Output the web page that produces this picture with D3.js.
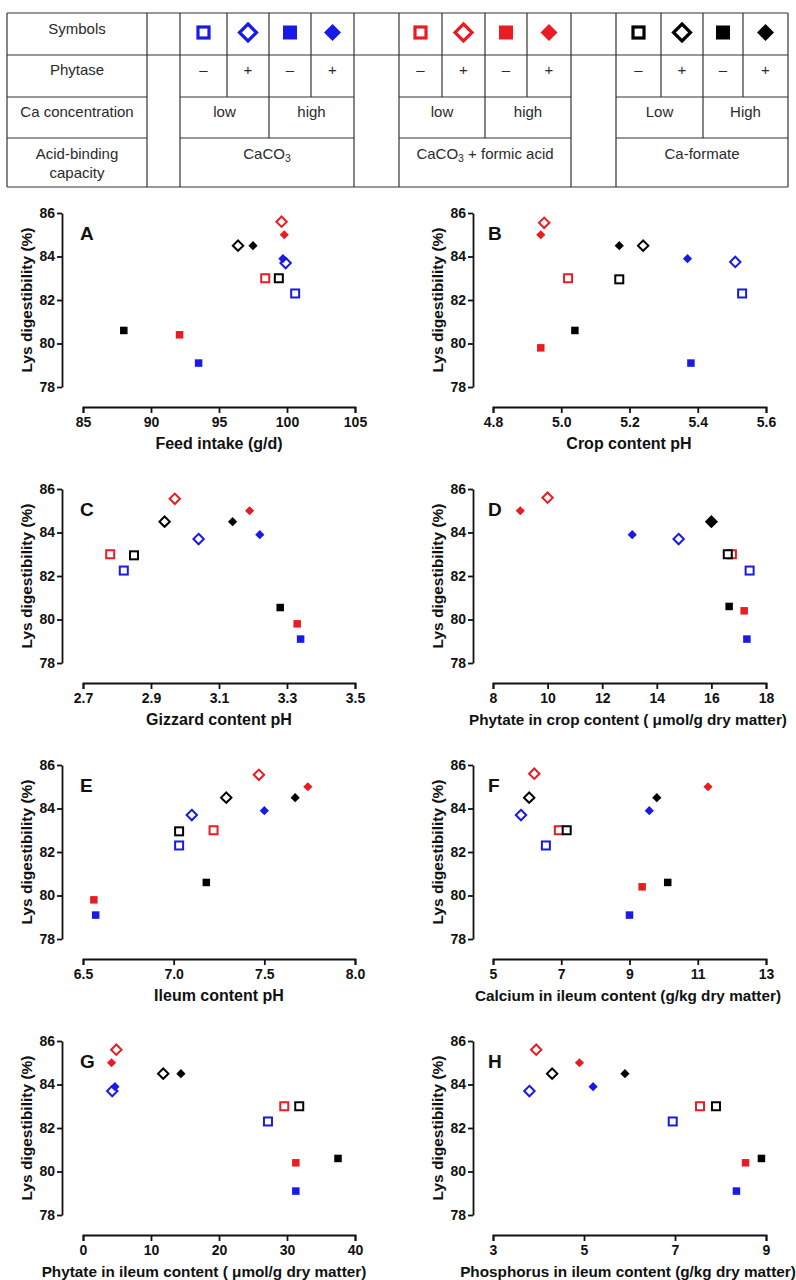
<!DOCTYPE html>
<html><head><meta charset="utf-8">
<script src="https://cdn.jsdelivr.net/npm/d3@7"></script>
<style>
body{margin:0;background:#fff}
svg{display:block}
text{font-family:"Liberation Sans",Arial,sans-serif}
</style></head>
<body><svg id="c" width="796" height="1280"></svg>
<script>
// Treatments: order of all value arrays
const treatments = [
 {group:"CaCO3", ca:"low", phytase:"-"},
 {group:"CaCO3", ca:"low", phytase:"+"},
 {group:"CaCO3", ca:"high", phytase:"-"},
 {group:"CaCO3", ca:"high", phytase:"+"},
 {group:"CaCO3 + formic acid", ca:"low", phytase:"-"},
 {group:"CaCO3 + formic acid", ca:"low", phytase:"+"},
 {group:"CaCO3 + formic acid", ca:"high", phytase:"-"},
 {group:"CaCO3 + formic acid", ca:"high", phytase:"+"},
 {group:"Ca-formate", ca:"Low", phytase:"-"},
 {group:"Ca-formate", ca:"Low", phytase:"+"},
 {group:"Ca-formate", ca:"High", phytase:"-"},
 {group:"Ca-formate", ca:"High", phytase:"+"}
];
const groupColors = {"CaCO3":"#1a1ae6","CaCO3 + formic acid":"#e81c22","Ca-formate":"#000000"};
const shapes = ["openSquare","openDiamond","filledSquare","filledDiamond"];

const yTicks = [78,80,82,84,86];

const xA = [100.6, 99.9, 93.5, 99.7, 98.4, 99.6, 92.1, 99.8, 99.4, 96.4, 88.0, 97.5];
const yA = [82.3, 83.7, 79.1, 83.9, 83.0, 85.6, 80.4, 85.0, 83.0, 84.5, 80.6, 84.5];
const xB = [5.53, 5.51, 5.38, 5.37, 5.02, 4.95, 4.94, 4.94, 5.17, 5.24, 5.04, 5.17];
const yB = [82.3, 83.75, 79.1, 83.9, 83.0, 85.55, 79.8, 85.0, 82.95, 84.5, 80.6, 84.5];
const xC = [2.82, 3.04, 3.34, 3.22, 2.78, 2.97, 3.33, 3.19, 2.85, 2.94, 3.28, 3.14];
const yC = [82.25, 83.7, 79.1, 83.9, 83.0, 85.55, 79.8, 85.0, 82.95, 84.5, 80.55, 84.5];
const xD = [17.4, 14.8, 17.3, 13.1, 16.75, 10.0, 17.2, 9.0, 16.6, 16.0, 16.65, 16.0];
const yD = [82.25, 83.7, 79.1, 83.9, 83.0, 85.6, 80.4, 85.0, 83.0, 84.5, 80.6, 84.5];
const xE = [7.03, 7.10, 6.57, 7.50, 7.22, 7.47, 6.56, 7.74, 7.03, 7.29, 7.18, 7.67];
const yE = [82.3, 83.7, 79.1, 83.9, 83.0, 85.55, 79.8, 85.0, 82.95, 84.5, 80.6, 84.5];
const xF = [6.55, 5.82, 9.0, 9.58, 6.93, 6.21, 9.37, 11.3, 7.16, 6.06, 10.12, 9.8];
const yF = [82.3, 83.7, 79.1, 83.9, 83.0, 85.6, 80.4, 85.0, 83.0, 84.5, 80.6, 84.5];
const xG = [27.2, 4.3, 31.3, 4.7, 29.6, 4.9, 31.3, 4.2, 31.8, 11.8, 37.5, 14.4];
const yG = [82.3, 83.7, 79.1, 83.9, 83.0, 85.6, 80.4, 85.0, 83.0, 84.5, 80.6, 84.5];
const xH = [6.95, 3.8, 8.35, 5.2, 7.55, 3.95, 8.55, 4.9, 7.9, 4.3, 8.9, 5.9];
const yH = [82.3, 83.7, 79.1, 83.9, 83.0, 85.6, 80.4, 85.0, 83.0, 84.5, 80.6, 84.5];

const panels = [
 {label:"A", title:"Feed intake (g/d)", domain:[85,105], ticks:[85,90,95,100,105], fmt:d3.format("d"), x:xA, y:yA},
 {label:"B", title:"Crop content pH", domain:[4.8,5.6], ticks:[4.8,5.0,5.2,5.4,5.6], fmt:d3.format(".1f"), x:xB, y:yB},
 {label:"C", title:"Gizzard content pH", domain:[2.7,3.5], ticks:[2.7,2.9,3.1,3.3,3.5], fmt:d3.format(".1f"), x:xC, y:yC},
 {label:"D", title:"Phytate in crop content ( \u03bcmol/g dry matter)", domain:[8,18], ticks:[8,10,12,14,16,18], fmt:d3.format("d"), x:xD, y:yD},
 {label:"E", title:"Ileum content pH", domain:[6.5,8.0], ticks:[6.5,7.0,7.5,8.0], fmt:d3.format(".1f"), x:xE, y:yE},
 {label:"F", title:"Calcium in ileum content (g/kg dry matter)", domain:[5,13], ticks:[5,7,9,11,13], fmt:d3.format("d"), x:xF, y:yF},
 {label:"G", title:"Phytate in ileum content ( \u03bcmol/g dry matter)", domain:[0,40], ticks:[0,10,20,30,40], fmt:d3.format("d"), x:xG, y:yG},
 {label:"H", title:"Phosphorus in ileum content (g/kg dry matter)", domain:[3,9], ticks:[3,5,7,9], fmt:d3.format("d"), x:xH, y:yH}
];

const svg = d3.select("#c");

// ---------- marker drawing ----------
function drawMarker(g, shape, color, cx, cy, s){
  if(shape==="openSquare"){
    const w = s.sq;
    g.append("rect").attr("x",cx-w/2).attr("y",cy-w/2).attr("width",w).attr("height",w)
     .attr("fill","#fff").attr("stroke",color).attr("stroke-width",s.sw);
  } else if(shape==="filledSquare"){
    const w = s.fsq;
    g.append("rect").attr("x",cx-w/2).attr("y",cy-w/2).attr("width",w).attr("height",w)
     .attr("fill",color);
  } else if(shape==="openDiamond"){
    const r = s.dia;
    g.append("path").attr("d",`M${cx},${cy-r}L${cx+r},${cy}L${cx},${cy+r}L${cx-r},${cy}Z`)
     .attr("fill","#fff").attr("stroke",color).attr("stroke-width",s.sw);
  } else {
    const r = s.fdia;
    g.append("path").attr("d",`M${cx},${cy-r}L${cx+r},${cy}L${cx},${cy+r}L${cx-r},${cy}Z`)
     .attr("fill",color);
  }
}

// ---------- table ----------
const T = svg.append("g");
const lineC = "#333";
const tTop=13, r1=55, r2=97, r3=138, tBot=187;
const groupCols = [[180,227,269,311,354],[399,442,485,527,571],[616,661,703,743,788]];
const caLabels = [["low","high"],["low","high"],["Low","High"]];
function L(x1,y1,x2,y2){T.append("line").attr("x1",x1).attr("y1",y1).attr("x2",x2).attr("y2",y2).attr("stroke",lineC).attr("stroke-width",1.2);}
L(7,tTop,788,tTop); L(7,r1,788,r1); L(7,tBot,788,tBot);
L(7,r2,147,r2); L(7,r3,147,r3);
[7,147].forEach(x=>L(x,tTop,x,tBot));
groupCols.forEach(c=>{
  L(c[0],tTop,c[0],tBot); L(c[4],tTop,c[4],tBot);
  L(c[0],r2,c[4],r2); L(c[0],r3,c[4],r3);
  [1,3].forEach(i=>L(c[i],tTop,c[i],r2));
  L(c[2],tTop,c[2],r3);
});
const tfs = 15;
function TT(x,y,s){return T.append("text").attr("x",x).attr("y",y).attr("text-anchor","middle").attr("font-size",tfs).attr("fill","#2a2a2a").text(s);}
TT(77,34,"Symbols"); TT(77,75,"Phytase"); TT(77,117,"Ca concentration");
TT(77,159,"Acid-binding"); TT(77,178,"capacity");
const tabStyle = {sq:11, fsq:14, dia:8.5, fdia:8.5, sw:3.2};
treatments.forEach((t,i)=>{
  const gi = Math.floor(i/4), k = i%4, c = groupCols[gi];
  const cx = (c[k]+c[k+1])/2;
  drawMarker(T, shapes[k], groupColors[t.group], cx, 32.5, tabStyle);
  TT(cx, 75, t.phytase==="-" ? "\u2013" : "+");
});
groupCols.forEach((c,gi)=>{
  TT((c[0]+c[2])/2,117,caLabels[gi][0]);
  TT((c[2]+c[4])/2,117,caLabels[gi][1]);
});
function subText(x,y,parts){
  const t = T.append("text").attr("x",x).attr("y",y).attr("text-anchor","middle").attr("font-size",tfs).attr("fill","#2a2a2a");
  parts.forEach(p=>{
    if(p.sub){ t.append("tspan").attr("font-size",10.5).attr("dy",3).text(p.s); }
    else { t.append("tspan").attr("dy",p.after? -3:0).text(p.s); }
  });
}
subText((groupCols[0][0]+groupCols[0][4])/2,159,[{s:"CaCO"},{s:"3",sub:true}]);
subText((groupCols[1][0]+groupCols[1][4])/2,159,[{s:"CaCO"},{s:"3",sub:true},{s:" + formic acid",after:true}]);
TT((groupCols[2][0]+groupCols[2][4])/2,159,"Ca-formate");

// ---------- scatter panels ----------
const ptStyle = {sq:8, fsq:7.5, dia:5.2, fdia:4.6, sw:2};
panels.forEach((p,i)=>{
  const col = i%2, row = Math.floor(i/2);
  const dy = row*276;
  const yAxisX = col===0 ? 62 : 473;
  const xr = col===0 ? [83,355] : [493,766];
  const y = d3.scaleLinear().domain([78,86]).range([387+dy, 213+dy]);
  const x = d3.scaleLinear().domain(p.domain).range(xr);
  const g = svg.append("g");

  const ya = g.append("g").attr("transform",`translate(${yAxisX},0)`)
    .call(d3.axisLeft(y).tickValues(yTicks).tickSize(5).tickSizeOuter(0).tickPadding(2));
  const xa = g.append("g").attr("transform",`translate(0,${407+dy})`)
    .call(d3.axisBottom(x).tickValues(p.ticks).tickFormat(p.fmt).tickSize(6).tickSizeOuter(6).tickPadding(4));
  [ya,xa].forEach(a=>{
    a.selectAll("path,line").attr("stroke","#111").attr("stroke-width",1.8);
    a.selectAll("text").attr("font-size",14).attr("font-weight","bold").attr("fill","#111")
      .attr("font-family","'Liberation Sans',Arial,sans-serif");
  });

  g.append("text").attr("transform",`translate(${col===0?32:443},${300+dy}) rotate(-90)`)
    .attr("text-anchor","middle").attr("font-size",15.5).attr("font-weight","bold").attr("fill","#111")
    .text("Lys digestibility (%)");
  const longT = p.title.length>25;
  g.append("text").attr("x",col===0 ? (longT?204:219) : (longT?628:629)).attr("y",449+dy)
    .attr("text-anchor","middle").attr("font-size",longT?15.3:16).attr("font-weight","bold").attr("fill","#111")
    .text(p.title);
  g.append("text").attr("x",col===0?80:488).attr("y",240+dy)
    .attr("font-size",19).attr("font-weight","bold").attr("fill","#111").text(p.label);

  const pts = g.append("g");
  treatments.forEach((t,k)=>{
    drawMarker(pts, shapes[k%4], groupColors[t.group], x(p.x[k]), y(p.y[k]), ptStyle);
  });
});
</script></body></html>
